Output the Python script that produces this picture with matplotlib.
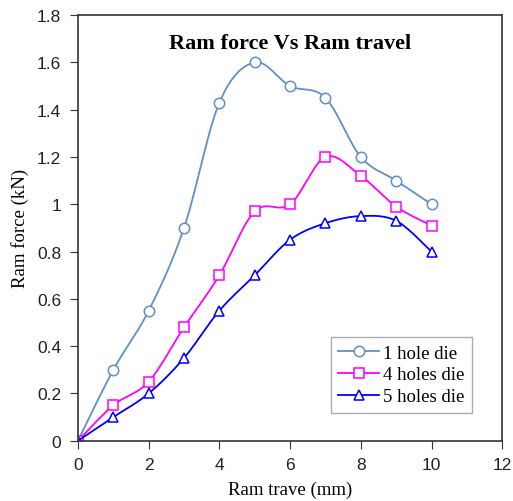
import numpy as np
import matplotlib
matplotlib.use('Agg')
import matplotlib.pyplot as plt

# data
travel = [0, 1, 2, 3, 4, 5, 6, 7, 8, 9, 10]
one_hole = [0, 0.30, 0.55, 0.90, 1.43, 1.60, 1.50, 1.45, 1.20, 1.10, 1.00]
four_holes = [0, 0.15, 0.25, 0.48, 0.70, 0.97, 1.00, 1.20, 1.12, 0.99, 0.91]
five_holes = [0, 0.10, 0.20, 0.35, 0.55, 0.70, 0.85, 0.92, 0.95, 0.93, 0.80]
labels = ['1 hole die', '4 holes die', '5 holes die']


def smooth(x, y, n=30):
    # excel-like smoothed line (cardinal bezier through the points)
    x = np.asarray(x, float)
    y = np.asarray(y, float)
    px = np.concatenate([[x[0]], x, [x[-1]]])
    py = np.concatenate([[y[0]], y, [y[-1]]])
    xs, ys = [], []
    t = np.linspace(0, 1, n)
    for i in range(1, len(px) - 2):
        p0 = np.array([px[i], py[i]])
        p3 = np.array([px[i + 1], py[i + 1]])
        p1 = p0 + (np.array([px[i + 1], py[i + 1]]) - np.array([px[i - 1], py[i - 1]])) / 6
        p2 = p3 - (np.array([px[i + 2], py[i + 2]]) - np.array([px[i], py[i]])) / 6
        b = ((1 - t) ** 3)[:, None] * p0 + (3 * (1 - t) ** 2 * t)[:, None] * p1 \
            + (3 * (1 - t) * t ** 2)[:, None] * p2 + (t ** 3)[:, None] * p3
        xs.extend(b[:, 0])
        ys.extend(b[:, 1])
    return xs, ys


fig = plt.figure(figsize=(5.13, 5.02), dpi=100)
ax = fig.add_axes([0.152, 0.12, 0.827, 0.848])

series = [(one_hole, '#6090C8', 'o'), (four_holes, '#FF00FF', 's'), (five_holes, '#0000FF', '^')]
for (vals, col, mk), lab in zip(series, labels):
    sx, sy = smooth(travel, vals)
    ax.plot(sx, sy, color=col, lw=1.3)
    ax.plot(travel, vals, ls='none', marker=mk, ms=7.5, mfc='white', mec=col, mew=1.1)
    ax.plot([], [], color=col, lw=1.3, marker=mk, ms=7.5, mfc='white', mec=col, mew=1.1, label=lab)

ax.set_xlim(0, 12)
ax.set_ylim(0, 1.8)
ax.set_xticks(range(0, 13, 2))
ax.set_yticks(np.arange(0, 1.81, 0.2))
ax.set_yticklabels(['0', '0.2', '0.4', '0.6', '0.8', '1', '1.2', '1.4', '1.6', '1.8'])
ax.tick_params(labelsize=12.5, length=6, pad=6, direction='out', color='#333333', labelcolor='#222222')
for lbl in ax.get_xticklabels() + ax.get_yticklabels():
    lbl.set_family('Liberation Sans')
for s in ax.spines.values():
    s.set_color('#333333')
    s.set_linewidth(1.2)

ax.set_xlabel('Ram trave (mm)', family='Liberation Serif', fontsize=13.5, labelpad=6)
ax.set_ylabel('Ram force (kN)', family='Liberation Serif', fontsize=13.5, labelpad=6)
ax.text(0.5, 0.935, 'Ram force Vs Ram travel', transform=ax.transAxes, ha='center', va='center',
        family='Liberation Serif', fontweight='bold', fontsize=16)

leg = ax.legend(loc='lower right', bbox_to_anchor=(0.929, 0.066), borderaxespad=0,
                prop={'family': 'Liberation Serif', 'size': 13.5},
                fancybox=False, edgecolor='#999999', handlelength=2.2, borderpad=0.4, labelspacing=0.25,
                handletextpad=0.2)

fig.savefig('out.png', dpi=100)
